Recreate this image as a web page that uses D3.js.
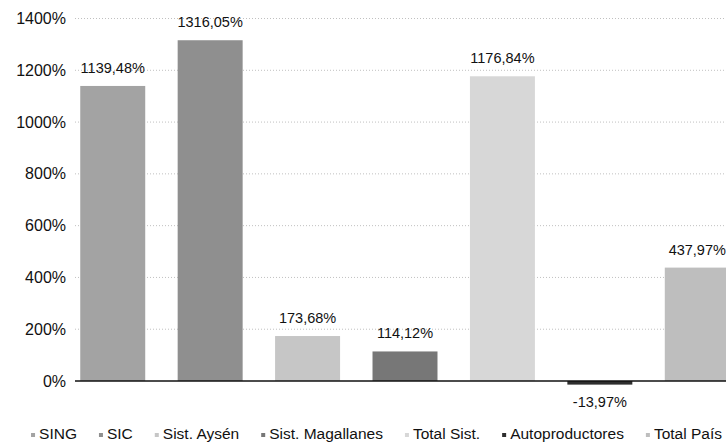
<!DOCTYPE html>
<html><head><meta charset="utf-8">
<script src="https://cdn.jsdelivr.net/npm/d3@7"></script>
<style>html,body{margin:0;padding:0;background:#fff;overflow:hidden}svg{display:block;font-family:"Liberation Sans",Arial,sans-serif}</style>
</head><body>
<script>
const categories = ["SING","SIC","Sist. Aysén","Sist. Magallanes","Total Sist.","Autoproductores","Total País"];
const values = [1139.48, 1316.05, 173.68, 114.12, 1176.84, -13.97, 437.97];
const valueLabels = ["1139,48%","1316,05%","173,68%","114,12%","1176,84%","-13,97%","437,97%"];
const colors = ["#a3a3a3","#8f8f8f","#c6c6c6","#777777","#d7d7d7","#2e2e2e","#bebebe"];
const yTicks = [0,200,400,600,800,1000,1200,1400];

const W = 726, H = 445;
const svg = d3.select("body").append("svg").attr("width", W).attr("height", H);

const y = d3.scaleLinear().domain([0,1400]).range([381,18.5]);
const x = d3.scaleBand().domain(categories).range([64,746]).paddingInner(0.333).paddingOuter(0.1667);

// gridlines
svg.append("g").selectAll("line").data(yTicks.filter(d=>d!==0)).join("line")
  .attr("x1",75).attr("x2",W).attr("y1",d=>y(d)).attr("y2",d=>y(d))
  .attr("stroke","#c0c0c0").attr("stroke-width",1).attr("stroke-dasharray","1,2");

// y axis labels
const yAxis = d3.axisLeft(y).tickValues(yTicks).tickFormat(d=>d+"%").tickSize(0).tickPadding(0);
const ga = svg.append("g").attr("transform","translate(66,0)").call(yAxis);
ga.select(".domain").remove();
ga.selectAll("text").attr("font-size",16).attr("fill","#111").attr("font-family","Liberation Sans, Arial, sans-serif");

// bars
svg.append("g").selectAll("rect").data(categories).join("rect")
  .attr("x",d=>x(d)).attr("width",x.bandwidth())
  .attr("y",(d,i)=>Math.min(y(values[i]),y(0)))
  .attr("height",(d,i)=>Math.max(Math.abs(y(values[i])-y(0)), 1))
  .attr("fill",(d,i)=>colors[i]);

// zero axis line
svg.append("line").attr("x1",75).attr("x2",W).attr("y1",y(0)).attr("y2",y(0))
  .attr("stroke","#111").attr("stroke-width",1.5);

// value labels
svg.append("g").selectAll("text").data(categories).join("text")
  .attr("x",d=>x(d)+x.bandwidth()/2)
  .attr("y",(d,i)=>values[i]>=0 ? y(values[i])-13 : y(values[i])+22)
  .attr("text-anchor","middle").attr("font-size",14.5).attr("fill","#111")
  .text((d,i)=>valueLabels[i]);

// legend
const lg = svg.append("g");
const items = [];
categories.forEach((c,i)=>{
  const g = lg.append("g");
  g.append("rect").attr("x",0).attr("y",-6).attr("width",4).attr("height",4).attr("fill",colors[i]);
  const t = g.append("text").attr("x",8).attr("y",0).attr("font-size",15.5).attr("fill","#111").text(c);
  const w = t.node().getComputedTextLength();
  items.push({g, w});
});
const gap = 22;
let total = items.reduce((s,it)=>s+8+it.w,0) + gap*(items.length-1);
let start = 30 + (693 - total)/2;
items.forEach(it=>{ it.g.attr("transform",`translate(${start},439)`); start += 8+it.w+gap; });
</script>
</body></html>
